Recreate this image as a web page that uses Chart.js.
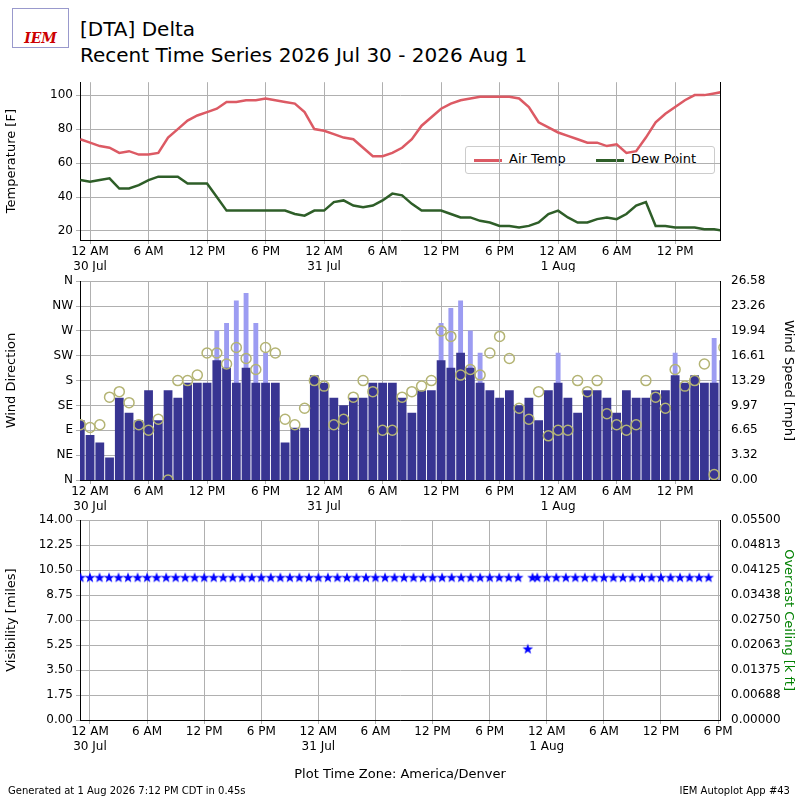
<!DOCTYPE html>
<html><head><meta charset="utf-8">
<script src="https://cdn.jsdelivr.net/npm/chart.js@4"></script>
<style>
body{margin:0;background:#fff;font-family:"DejaVu Sans",sans-serif}
#wrap{position:relative;width:800px;height:800px}
canvas{position:absolute;left:0}
.t{position:absolute;color:#000;white-space:nowrap}
</style></head><body><div id="wrap">
<div class="t" style="left:12px;top:8px;width:55px;height:38px;border:1px solid #99c;font:italic bold 14px 'DejaVu Serif';color:#c00;text-align:center;line-height:58px">IEM</div>
<div class="t" style="left:80px;top:17px;font-size:20px">[DTA] Delta</div>
<div class="t" style="left:80px;top:43px;font-size:20px">Recent Time Series 2026 Jul 30 - 2026 Aug 1</div>
<div class="t" style="left:465px;top:146px;width:248px;height:26px;border:1px solid #ccc;border-radius:3px;background:rgba(255,255,255,.85);font-size:13px">
<span style="position:absolute;left:8px;top:12px;width:28px;border-top:3px solid #dc5a64"></span><span style="position:absolute;left:43px;top:4px">Air Temp</span>
<span style="position:absolute;left:130px;top:12px;width:28px;border-top:3px solid #2e5e28"></span><span style="position:absolute;left:165px;top:4px">Dew Point</span></div>
<canvas id="c1" width="800" height="200" style="top:72px"></canvas>
<canvas id="c2" width="800" height="249" style="top:271px"></canvas>
<canvas id="c3" width="800" height="250" style="top:510px"></canvas>
<div class="t" style="left:0;width:800px;text-align:center;top:766px;font-size:13px">Plot Time Zone: America/Denver</div>
<div class="t" style="left:8px;top:785px;font-size:10px">Generated at 1 Aug 2026 7:12 PM CDT in 0.45s</div>
<div class="t" style="right:10px;top:785px;font-size:10px">IEM Autoplot App #43</div>
</div>
<script>
// hours since 30 Jul 12 AM
var hours = [-1,0,1,2,3,4,5,6,7,8,9,10,11,12,13,14,15,16,17,18,19,20,21,22,23,24,25,26,27,28,29,30,31,32,33,34,35,36,37,38,39,40,41,42,43,44,45,46,47,48,49,50,51,52,53,54,55,56,57,58,59,60,61,62,63,64,65,66];
var airTemp = [74,72,70,69,66,67,65,65,66,75,80,85,88,90,92,96,96,97,97,98,97,96,95,90,80,79,77,75,74,69,64,64,66,69,74,82,87,92,95,97,98,99,99,99,99,98,93,84,81,78,76,74,72,72,70,71,66,67,75,84,89,93,97,100,100,101,102,103];
var dewPoint = [50,49,50,51,45,45,47,50,52,52,52,48,48,48,40,32,32,32,32,32,32,32,30,29,32,32,37,38,35,34,35,38,42,41,36,32,32,32,30,28,28,26,25,23,23,22,23,25,30,32,28,25,25,27,28,27,30,35,37,23,23,22,22,22,21,21,20,18];
var windSpeed = [8,6,5,3,11,9,8,12,8,12,11,13,13,13,16,15,13,15,13,13,13,5,7,7,14,13,11,10,11,11,13,13,13,11,9,12,12,16,15,17,15,13,12,11,12,10,11,8,12,13,11,9,12,12,11,9,12,11,11,12,12,14,13,14,13,13,16,13];
var windGust = [null,null,null,null,null,null,null,null,null,null,null,null,null,null,20,21,24,25,21,17,null,null,null,null,null,null,null,null,null,null,null,null,null,null,null,null,null,21,23,24,20,17,null,null,null,null,null,null,null,17,null,null,null,null,null,null,null,null,null,null,null,17,null,null,null,19,23,19];
var windDir = [100,95,100,150,160,140,100,90,110,0,180,180,190,230,230,210,240,220,200,240,230,110,100,130,180,170,100,110,150,180,160,90,90,150,160,170,180,270,260,190,200,190,230,260,220,130,110,160,80,90,90,180,160,180,120,100,90,100,180,150,130,200,170,180,210,10,240,180];
var visibility = [10,10,10,10,10,10,10,10,10,10,10,10,10,10,10,10,10,10,10,10,10,10,10,10,10,10,10,10,10,10,10,10,10,10,10,10,10,10,10,10,10,10,10,10,10,10,10,5,10,10,10,10,10,10,10,10,10,10,10,10,10,10,10,10,10,10,10,10];
var visHours = [-1,0,1,2,3,4,5,6,7,8,9,10,11,12,13,14,15,16,17,18,19,20,21,22,23,24,25,26,27,28,29,30,31,32,33,34,35,36,37,38,39,40,41,42,43,44,45,46,46.5,47,48,49,50,51,52,53,54,55,56,57,58,59,60,61,62,63,64,65,66];
var timeTicks = [0,6,12,18,24,30,36,42,48,54,60,66];
var timeLabels = [["12 AM","30 Jul"],"6 AM","12 PM","6 PM",["12 AM","31 Jul"],"6 AM","12 PM","6 PM",["12 AM","1 Aug"],"6 AM","12 PM","6 PM"];
var dirLabels = ["N","NE","E","SE","S","SW","W","NW","N"];
var speedTicks = [0,3.32,6.65,9.97,13.29,16.61,19.94,23.26,26.58];
var visTicks = [0,1.75,3.5,5.25,7,8.75,10.5,12.25,14];
var ceilTicks = ["0.00000","0.00688","0.01375","0.02063","0.02750","0.03438","0.04125","0.04813","0.05500"];

var F = {family:"DejaVu Sans",size:12};
var grid = {color:"#b0b0b0",drawTicks:true,tickLength:4,offset:false};
function xScale(minH, maxH, h){
  return {type:"linear",min:minH,max:maxH,offset:false,grid:grid,border:{color:"#000"},
    afterBuildTicks:function(s){s.ticks=timeTicks.filter(function(v){return v<=maxH;}).map(function(v){return {value:v};});},
    afterFit:function(s){s.height=h;},
    ticks:{color:"#000",font:F,maxRotation:0,autoSkip:false,padding:1,
      callback:function(v){return timeLabels[timeTicks.indexOf(v)];}}};
}
function pts(ys, xs){ return ys.map(function(y,i){return {x:(xs||hours)[i],y:y};}); }
function leftW(s){s.width=80;}
function rightW(s){s.width=80;}
Chart.defaults.animation=false;
Chart.defaults.responsive=false;
Chart.defaults.font.family="DejaVu Sans";

new Chart("c1",{type:"line",
  data:{datasets:[
    {data:pts(airTemp),borderColor:"#dc5a64",borderWidth:2.5,pointRadius:0},
    {data:pts(dewPoint),borderColor:"#2e5e28",borderWidth:2.5,pointRadius:0}]},
  options:{layout:{padding:{top:10}},plugins:{legend:{display:false},tooltip:{enabled:false}},
    scales:{x:xScale(-1.03,64.6,32),
      y:{min:14.7,max:107.6,grid:grid,border:{color:"#000"},afterFit:leftW,
        afterBuildTicks:function(s){s.ticks=[20,40,60,80,100].map(function(v){return {value:v};});},
        ticks:{color:"#000",font:F},title:{display:true,text:"Temperature [F]",color:"#000",font:{size:13}}},
      yr:{position:"right",display:true,afterFit:rightW,grid:{display:false},border:{color:"#000"},ticks:{display:false}}}}});

new Chart("c2",{type:"bar",
  data:{datasets:[
    {type:"scatter",data:pts(windDir),yAxisID:"y",borderColor:"#b4b474",backgroundColor:"rgba(0,0,0,0)",pointRadius:5,borderWidth:1.5,order:0},
    {data:pts(windSpeed),yAxisID:"y2",backgroundColor:"#383592",barPercentage:0.9,categoryPercentage:1,grouped:false,order:1},
    {data:pts(windGust),yAxisID:"y2",backgroundColor:"#9c9cf2",barPercentage:0.5,categoryPercentage:1,grouped:false,order:2}]},
  options:{layout:{padding:{top:10}},plugins:{legend:{display:false},tooltip:{enabled:false}},
    scales:{x:xScale(-1.03,64.6,40),
      y:{min:0,max:360,grid:grid,border:{color:"#000"},afterFit:leftW,
        afterBuildTicks:function(s){s.ticks=[0,45,90,135,180,225,270,315,360].map(function(v){return {value:v};});},
        ticks:{color:"#000",font:F,callback:function(v){return dirLabels[v/45];}},
        title:{display:true,text:"Wind Direction",color:"#000",font:{size:13}}},
      y2:{position:"right",min:0,max:26.58,grid:{display:false},border:{color:"#000"},afterFit:rightW,
        afterBuildTicks:function(s){s.ticks=speedTicks.map(function(v){return {value:v};});},
        ticks:{color:"#000",font:F,callback:function(v){return v.toFixed(2);}},
        title:{display:true,text:"Wind Speed [mph]",color:"#000",font:{size:13}}}}}});

var star = document.createElement("canvas"); star.width=12; star.height=12;
(function(){var g=star.getContext("2d");g.fillStyle="#0000ff";g.beginPath();
  for(var i=0;i<10;i++){var r=i%2?2.3:5.6,a=-Math.PI/2+i*Math.PI/5;g.lineTo(6+r*Math.cos(a),6.5+r*Math.sin(a));}
  g.closePath();g.fill();})();

new Chart("c3",{type:"scatter",
  data:{datasets:[{data:pts(visibility,visHours),pointStyle:star,pointRadius:6}]},
  options:{layout:{padding:{top:10}},plugins:{legend:{display:false},tooltip:{enabled:false}},
    scales:{x:xScale(-1.05,66.2,40),
      y:{min:0,max:14,grid:grid,border:{color:"#000"},afterFit:leftW,
        afterBuildTicks:function(s){s.ticks=visTicks.map(function(v){return {value:v};});},
        ticks:{color:"#000",font:F,callback:function(v){return v.toFixed(2);}},
        title:{display:true,text:"Visibility [miles]",color:"#000",font:{size:13}}},
      y2:{position:"right",min:0,max:8,grid:{display:false},border:{color:"#000"},afterFit:rightW,
        afterBuildTicks:function(s){s.ticks=[0,1,2,3,4,5,6,7,8].map(function(v){return {value:v};});},
        ticks:{color:"#000",font:F,callback:function(v){return ceilTicks[v];}},
        title:{display:true,text:"Overcast Ceiling [k ft]",color:"#008000",font:{size:13}}}}}});
</script></body></html>
